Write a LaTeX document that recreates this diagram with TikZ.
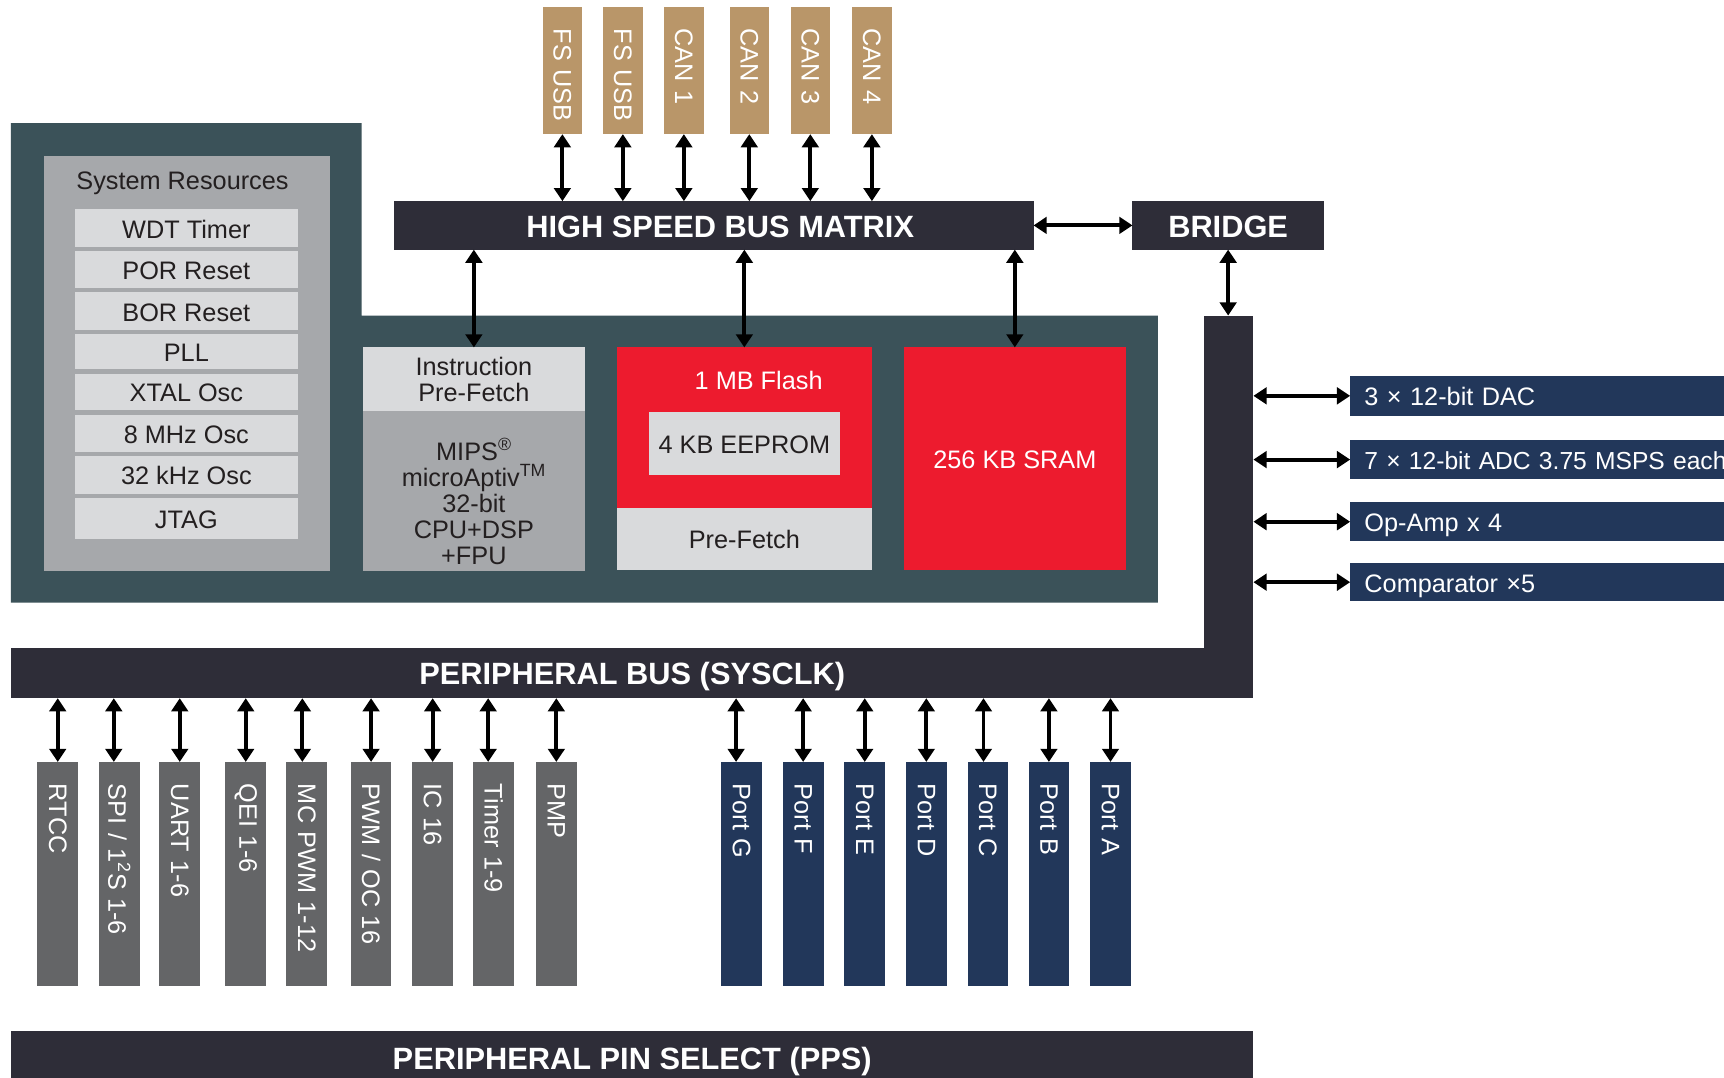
\documentclass[tikz,border=0pt]{standalone}
\usepackage{fontspec}
\setmainfont{Liberation Sans}
\usetikzlibrary{arrows.meta}
\definecolor{cteal}{HTML}{3B5259}
\definecolor{cdark}{HTML}{2E2D38}
\definecolor{ctan}{HTML}{B99669}
\definecolor{cred}{HTML}{ED1B2E}
\definecolor{clight}{HTML}{D9DADC}
\definecolor{cgrey}{HTML}{A6A8AB}
\definecolor{cpgrey}{HTML}{646567}
\definecolor{cnavy}{HTML}{22375A}
\definecolor{ctext}{HTML}{231F20}
\begin{document}
\begin{tikzpicture}[x=1pt,y=-1pt,
  blk/.style={rectangle, inner sep=0pt, outer sep=0pt, draw=none, anchor=north west},
  regtxt/.style={font=\fontsize{23}{23.5}\selectfont},
  oneline/.style={text height=18pt, text depth=0pt},
  boldtxt/.style={font=\fontsize{28}{30}\selectfont\bfseries, text=white, text height=22pt, text depth=0pt},
  darkbar/.style={blk, fill=cdark, boldtxt},
  sysitem/.style={blk, fill=clight, text=ctext, regtxt, oneline, minimum width=203pt},
  vlab/.style={rectangle, rotate=-90, anchor=west, inner ysep=0pt, inner xsep=20pt, outer sep=0pt, align=left, text=white, regtxt},
  tanbox/.style={vlab, fill=ctan, minimum width=116pt, text width=76pt, minimum height=36pt},
  perbox/.style={vlab, fill=cpgrey, minimum width=204pt, text width=164pt, minimum height=37pt},
  portbox/.style={vlab, fill=cnavy, minimum width=204pt, text width=164pt, minimum height=37pt},
  anbox/.style={blk, fill=cnavy, text=white, regtxt, oneline, text width=420pt, inner xsep=13pt, align=left},
  arr/.style={line width=3.5pt, {Triangle[length=12pt,width=15pt]}-{Triangle[length=12pt,width=15pt]}},
]
\useasboundingbox (0,0) rectangle (1568,980);
\fill[white] (0,0) rectangle (1568,980);

% teal core block
\fill[cteal] (10,112) -- (329,112) -- (329,287) -- (1053,287) -- (1053,548) -- (10,548) -- cycle;

% system resources
\node[blk, fill=cgrey, minimum width=260pt, minimum height=377pt,
  label={[regtxt, text=ctext, anchor=center, xshift=-4pt, yshift=-25pt]north:System Resources}] (sysres) at (40,142) {};
\node[sysitem, minimum height=35pt] (wdt)  at (68,190) {WDT Timer};
\node[sysitem, minimum height=34pt] (por)  at (68,228) {POR Reset};
\node[sysitem, minimum height=34pt] (bor)  at (68,266) {BOR Reset};
\node[sysitem, minimum height=32pt] (pll)  at (68,304) {PLL};
\node[sysitem, minimum height=33pt] (xtal) at (68,340) {XTAL Osc};
\node[sysitem, minimum height=34pt] (mhz)  at (68,377) {8 MHz Osc};
\node[sysitem, minimum height=34pt] (khz)  at (68,415) {32 kHz Osc};
\node[sysitem, minimum height=37pt] (jtag) at (68,453) {JTAG};

% CPU
\node[blk, fill=clight, text=ctext, regtxt, align=center, minimum width=202pt, minimum height=58pt] (instr) at (330,316) {Instruction\\Pre-Fetch};
\node[blk, fill=cgrey, minimum width=202pt, minimum height=145pt,
  label={[regtxt, align=center, text=ctext, anchor=center, yshift=-82pt]north:{MIPS\textsuperscript{®}\\microAptiv\textsuperscript{TM}\\32-bit\\CPU+DSP\\+FPU}}] (cpu) at (330,374) {};

% Flash
\node[blk, fill=cred, minimum width=232pt, minimum height=146pt,
  label={[regtxt, text=white, anchor=center, xshift=13pt, yshift=-30pt]north:1 MB Flash}] (flash) at (561,316) {};
\node[blk, fill=clight, text=ctext, regtxt, oneline, minimum width=174pt, minimum height=57pt] (eeprom) at (590,375) {4 KB EEPROM};
\node[blk, fill=clight, text=ctext, regtxt, oneline, minimum width=232pt, minimum height=56pt] (prefetch) at (561,462) {Pre-Fetch};

% SRAM
\node[blk, fill=cred, text=white, regtxt, oneline, minimum width=202pt, minimum height=202pt] (sram) at (822,316) {256 KB SRAM};

% buses
\node[darkbar, minimum width=582pt, minimum height=44pt] (hsbm) at (358,183) {\hspace*{12pt}HIGH SPEED BUS MATRIX};
\node[darkbar, minimum width=174pt, minimum height=44pt] (bridge) at (1030,183) {BRIDGE};
\node[darkbar, minimum width=45pt, minimum height=302pt] (pbusv) at (1095,287) {};
\node[darkbar, minimum width=1130pt, minimum height=46pt] (pbus) at (10,589) {PERIPHERAL BUS (SYSCLK)};
\node[darkbar, minimum width=1130pt, minimum height=48pt] (pps) at (10,938) {PERIPHERAL PIN SELECT (PPS)};

% top interfaces
\node[tanbox] (usba) at (511.5,6) {FS~USB};
\node[tanbox] (usbb) at (566.5,6) {FS~USB};
\node[tanbox] (cana) at (622,6) {CAN 1};
\node[tanbox] (canb) at (681.5,6) {CAN 2};
\node[tanbox] (canc) at (737,6) {CAN 3};
\node[tanbox] (cand) at (793,6) {CAN 4};

% analog
\node[anbox, minimum height=36pt] (dac) at (1228,342) {3 × 12-bit DAC};
\node[anbox, minimum height=36pt, font=\fontsize{22.4}{23}\selectfont] (adc) at (1228,400) {7 × 12-bit ADC 3.75 MSPS each};
\node[anbox, minimum height=35pt] (opamp) at (1228,457) {Op-Amp x 4};
\node[anbox, minimum height=35pt] (comp) at (1228,512) {Comparator ×5};

% peripherals
\node[perbox] (rtcc) at (52.5,693) {RTCC};
\node[perbox] (spi) at (108.5,693) {SPI / 1\textsuperscript{2}S 1-6};
\node[perbox] (uart) at (163.5,693) {UART 1-6};
\node[perbox] (qei) at (223.5,693) {QEI 1-6};
\node[perbox] (mcpwm) at (279,693) {MC PWM 1-12};
\node[perbox] (pwmoc) at (337.5,693) {PWM / OC 16};
\node[perbox] (ic) at (393.5,693) {IC 16};
\node[perbox] (timer) at (449,693) {Timer 1-9};
\node[perbox] (pmp) at (506,693) {PMP};

% ports
\node[portbox] (portg) at (674.5,693) {Port G};
\node[portbox] (portf) at (730.5,693) {Port F};
\node[portbox] (porte) at (786.5,693) {Port E};
\node[portbox] (portd) at (842.5,693) {Port D};
\node[portbox] (portc) at (898.5,693) {Port C};
\node[portbox] (portb) at (954,693) {Port B};
\node[portbox] (porta) at (1010,693) {Port A};

% connectors
\foreach \n in {usba,usbb,cana,canb,canc,cand}
  \draw[arr] (\n.east) -- (\n.east |- hsbm.north);
\draw[arr] (hsbm.east) -- (bridge.west);
\draw[arr] (bridge.south) -- (bridge.south |- pbusv.north);
\foreach \n in {instr,flash,sram}
  \draw[arr] (\n.north |- hsbm.south) -- (\n.north);
\foreach \n in {dac,adc,opamp,comp}
  \draw[arr] (pbusv.east |- \n.west) -- (\n.west);
\foreach \n/\s in {rtcc/0,spi/-5,uart/0,qei/0,mcpwm/-4,pwmoc/0,ic/0,timer/-5,pmp/0,
                   portg/-5,portf/0,porte/0,portd/0,portc/-4,portb/0,porta/0}
  \draw[arr] ([xshift=\s pt]\n.west |- pbus.south) -- ([xshift=\s pt]\n.west);
\end{tikzpicture}
\end{document}
